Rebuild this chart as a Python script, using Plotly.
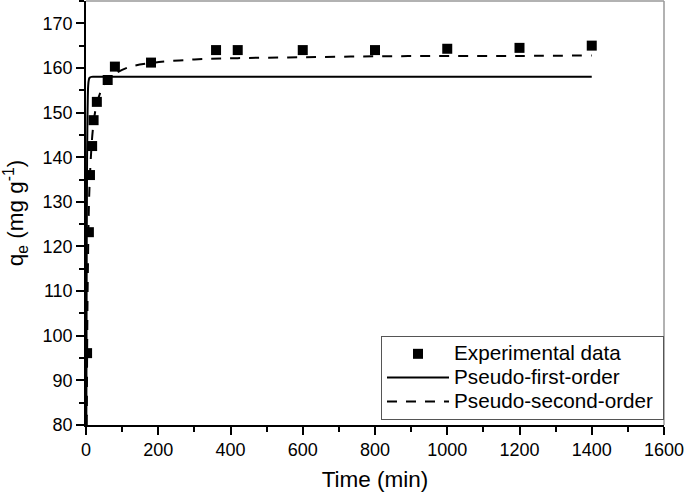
import plotly.graph_objects as go

# experimental points
t_exp = [3, 8, 11, 17, 21, 30, 60, 80, 180, 360, 420, 600, 800, 1000, 1200, 1400]
q_exp = [96.1, 123.2, 136.0, 142.5, 148.3, 152.4, 157.3, 160.3, 161.2,
         164.0, 164.0, 164.0, 164.0, 164.3, 164.5, 165.0]

# pseudo-first-order fit curve
t_pfo = [1, 2, 3, 4, 5, 6, 8, 10, 15, 30, 200, 600, 1000, 1400]
q_pfo = [82.0, 121.0, 140.0, 149.0, 153.5, 156.0, 157.4, 157.8, 158.0, 158.0,
         158.0, 158.0, 158.0, 158.0]

# pseudo-second-order fit curve
t_pso = [2.2, 3, 5, 10, 20, 30, 45, 60, 80, 120, 180, 300, 420, 600, 800,
         1000, 1200, 1400]
q_pso = [80.0, 94.5, 113.5, 134.0, 147.0, 152.0, 155.5, 157.3, 158.7, 160.2,
         161.1, 161.9, 162.2, 162.4, 162.6, 162.7, 162.7, 162.8]

names = ["Experimental data", "Pseudo-first-order", "Pseudo-second-order"]

FONT = "Liberation Sans, Arial, sans-serif"


def leg(name):
    # bigger text than the legend font so the rows stay tight
    return '<span style="font-size:20.7px">' + name + "</span>" + "\u00a0"


fig = go.Figure()
fig.add_trace(go.Scatter(
    x=t_exp, y=q_exp, mode="markers", name=leg(names[0]),
    marker=dict(symbol="square", size=10, color="black"),
))
fig.add_trace(go.Scatter(
    x=t_pfo, y=q_pfo, mode="lines", name=leg(names[1]),
    line=dict(color="black", width=2, shape="spline"),
))
fig.add_trace(go.Scatter(
    x=t_pso, y=q_pso, mode="lines", name=leg(names[2]),
    line=dict(color="black", width=2, dash="10px,9px", shape="spline"),
))

axis_common = dict(
    showline=True, linecolor="black", linewidth=1.5,
    ticks="outside", ticklen=8, tickwidth=1.5, tickcolor="black",
    showgrid=False, zeroline=False,
    tickfont=dict(family=FONT, size=18, color="black"),
)

fig.update_xaxes(
    range=[0, 1600], dtick=200, tick0=0, ticklabeloverflow="allow",
    minor=dict(ticks="outside", ticklen=5, tickwidth=1.5, tickcolor="black", dtick=100),
    title=dict(text="Time (min)", font=dict(family=FONT, size=22.5, color="black"),
               standoff=12),
    **axis_common,
)
fig.update_yaxes(
    range=[80, 175], dtick=10, tick0=80,
    minor=dict(ticks="outside", ticklen=5, tickwidth=1.5, tickcolor="black", dtick=5),
    title=dict(text="q<sub>e</sub> (mg g<sup>-1</sup>)",
               font=dict(family=FONT, size=22.5, color="black"), standoff=14),
    **axis_common,
)

fig.update_layout(
    width=685, height=495,
    margin=dict(l=86, r=21, t=1, b=70, autoexpand=False),
    plot_bgcolor="white", paper_bgcolor="white",
    legend=dict(
        x=1, y=0.012, xanchor="right", yanchor="bottom",
        bordercolor="#555555", borderwidth=1, bgcolor="white",
        font=dict(family=FONT, size=16, color="black"),
        itemwidth=62, tracegroupgap=0,
    ),
    shapes=[
        dict(type="line", xref="paper", yref="paper", x0=0, x1=1, y0=1, y1=1,
             line=dict(color="#999999", width=1.5)),
        dict(type="line", xref="paper", yref="paper", x0=1, x1=1, y0=0, y1=1,
             line=dict(color="#999999", width=1.5)),
    ],
)

fig.write_html("out.html", config={"displayModeBar": False},
               post_script="document.body.style.margin='0px';")
